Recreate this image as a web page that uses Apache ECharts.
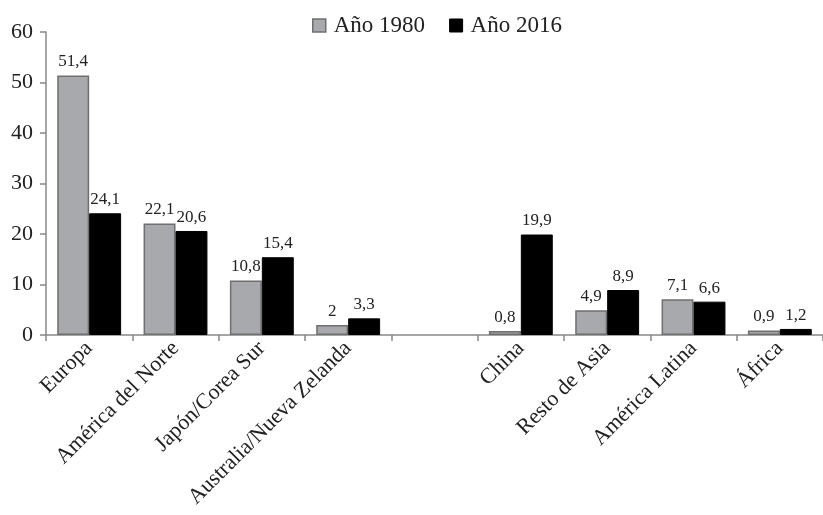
<!DOCTYPE html>
<html>
<head>
<meta charset="utf-8">
<script src="https://cdn.jsdelivr.net/npm/echarts@6/dist/echarts.min.js"></script>
<style>
  html, body { margin: 0; padding: 0; background: #fff; }
  #chart { width: 823px; height: 515px; }
</style>
</head>
<body>
<div id="chart"></div>
<script>
// Regions (an empty slot separates the two groups)
const regions = ['Europa', 'América del Norte', 'Japón/Corea Sur', 'Australia/Nueva Zelanda', '',
                 'China', 'Resto de Asia', 'América Latina', 'África'];
const year1980 = [51.4, 22.1, 10.8, 2, null, 0.8, 4.9, 7.1, 0.9];
const year2016 = [24.1, 20.6, 15.4, 3.3, null, 19.9, 8.9, 6.6, 1.2];
const yTicks = { min: 0, max: 60, interval: 10 };

const fontFamily = '"Liberation Serif", "DejaVu Serif", serif';
const fmt = p => (p.value == null ? '' : String(p.value).replace('.', ','));

const chart = echarts.init(document.getElementById('chart'));
chart.setOption({
  animation: false,
  textStyle: { fontFamily },
  legend: {
    top: 9,
    left: 307,
    icon: 'rect',
    itemWidth: 13,
    itemHeight: 13,
    itemGap: 24,
    textStyle: { fontFamily, fontSize: 23, color: '#222', padding: [0, 0, 0, 3] },
    data: [
      { name: 'Año 1980', itemStyle: { color: '#a7a9ac', borderColor: '#6f6f6f', borderWidth: 1.5 } },
      { name: 'Año 2016', itemStyle: { color: '#000', borderColor: '#000', borderWidth: 1 } }
    ]
  },
  grid: { left: 46, top: 32, width: 783, height: 303 },
  xAxis: {
    type: 'category',
    data: regions,
    axisLine: { lineStyle: { color: '#888', width: 1.5 } },
    axisTick: { show: true, length: 6, lineStyle: { color: '#888', width: 1.5 } },
    axisLabel: { rotate: 45, fontFamily, fontSize: 22, color: '#222', margin: 10, interval: 0 }
  },
  yAxis: {
    type: 'value',
    min: yTicks.min, max: yTicks.max, interval: yTicks.interval,
    splitLine: { show: false },
    axisLine: { show: true, lineStyle: { color: '#888', width: 1.5 } },
    axisTick: { show: true, length: 6, lineStyle: { color: '#888', width: 1.5 } },
    axisLabel: { fontFamily, fontSize: 22, color: '#222', margin: 13 }
  },
  series: [
    {
      name: 'Año 1980',
      type: 'bar',
      data: year1980,
      barGap: '0%',
      barCategoryGap: '26%',
      itemStyle: { color: '#a7a9ac', borderColor: '#6f6f6f', borderWidth: 1.5 },
      label: { show: true, position: 'top', distance: 5, formatter: fmt,
               fontFamily, fontSize: 17, color: '#222' }
    },
    {
      name: 'Año 2016',
      type: 'bar',
      data: year2016,
      itemStyle: { color: '#000', borderColor: '#000', borderWidth: 1 },
      label: { show: true, position: 'top', distance: 5, formatter: fmt,
               fontFamily, fontSize: 17, color: '#222' }
    }
  ]
});
</script>
</body>
</html>
